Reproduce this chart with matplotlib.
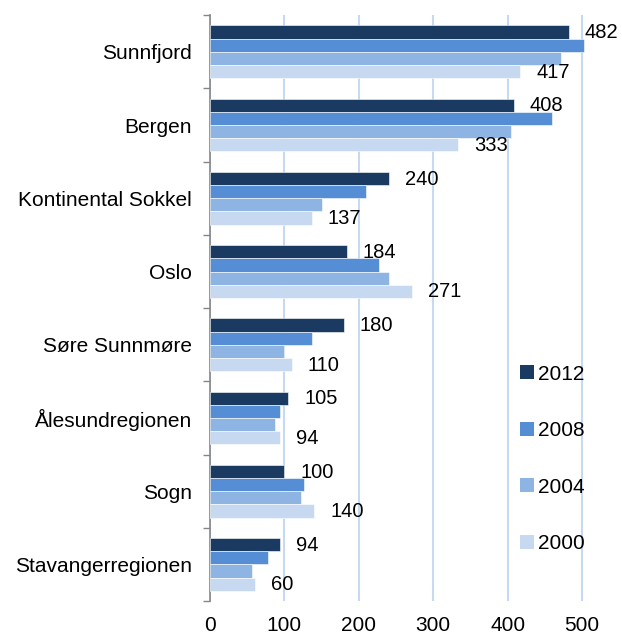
import matplotlib.pyplot as plt
import numpy as np
from matplotlib.patches import Patch

plt.rcParams["font.family"] = ["Liberation Sans", "DejaVu Sans"]

# ---- DATA ----
regions = ["Sunnfjord", "Bergen", "Kontinental Sokkel", "Oslo",
           "Søre Sunnmøre", "Ålesundregionen", "Sogn", "Stavangerregionen"]
years = ["2012", "2008", "2004", "2000"]
v2012 = [482, 408, 240, 184, 180, 105, 100, 94]
v2008 = [502, 460, 210, 227, 137, 94, 127, 78]
v2004 = [472, 405, 151, 241, 100, 87, 122, 57]
v2000 = [417, 333, 137, 271, 110, 94, 140, 60]
xticks = [0, 100, 200, 300, 400, 500]

colors = ["#1B3A62", "#558ED5", "#8EB4E3", "#C6D9F1"]
series = [v2012, v2008, v2004, v2000]

fig = plt.figure(figsize=(6.22, 6.35), dpi=100)
ax = fig.add_axes([0.3376, 0.0535, 0.646, 0.9225])

y = np.arange(len(regions))
h = 0.18
for j, vals in enumerate(series):
    pos = y + (j - 1.5) * h
    ax.barh(pos, vals, height=h, color=colors[j], edgecolor="white",
            linewidth=0.4, zorder=3)
    # only newest and oldest year get value labels
    if j in (0, 3):
        for p, v in zip(pos, vals):
            ax.annotate(str(v), (v, p), xytext=(11.5, -0.5),
                        textcoords="offset points", va="center", ha="left",
                        fontsize=14.5, zorder=4)

ax.set_xlim(0, 540)
ax.set_ylim(len(regions) - 0.5, -0.5)

ax.set_xticks(xticks)
ax.tick_params(axis="x", length=0, labelsize=15, pad=11)
ax.set_yticks(y)
ax.set_yticklabels(regions)
ax.tick_params(axis="y", which="major", length=0, labelsize=15, pad=13)
ax.set_yticks(np.arange(len(regions) + 1) - 0.5, minor=True)
ax.tick_params(axis="y", which="minor", length=5, width=1, color="#868686",
               direction="out")

for s in ["top", "right", "bottom"]:
    ax.spines[s].set_visible(False)
ax.spines["left"].set_color("#868686")
ax.spines["left"].set_linewidth(1.2)

ax.grid(axis="x", color="#C6D9F1", linewidth=1.5, zorder=0)
ax.set_axisbelow(True)

handles = [Patch(facecolor=c, edgecolor="none") for c in colors]
ax.legend(handles, years, loc="upper left", bbox_to_anchor=(0.752, 0.418),
          frameon=False, fontsize=15, handlelength=0.65, handleheight=0.65,
          handletextpad=0.2, labelspacing=1.8, borderaxespad=0)

plt.savefig("out.png", dpi=100)
